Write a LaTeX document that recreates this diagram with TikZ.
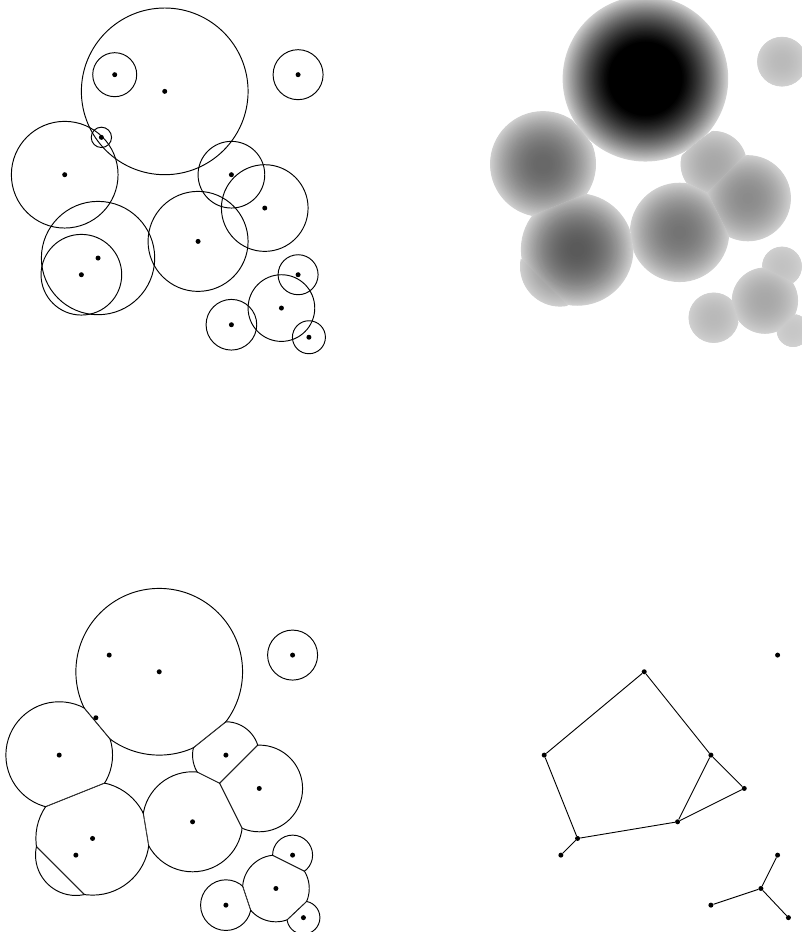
\documentclass[tikz,border=0pt]{standalone}
\usepackage{tikz}

\newcommand\sites{B/9/5/5, C/17/4/1.5, E/3/10/3.2, F/13/10/2, G/15/12/2.6, H/11/14/3, I/5/15/3.4, J/4/16/2.42, K/17/16/1.2, L/16/18/2, M/13/19/1.52, N/17.65/19.75/0.99}
\edef\allsites{A/6/4/1.32, D/5.2/7.76/0.61, \sites}

% radical axis of two weighted sites: foot point (\rax,\ray), direction (\rux,\ruy)
\newcommand\radaxis[6]{%
  \pgfmathsetmacro\rdd{veclen(#4-#1,#5-#2)}%
  \pgfmathsetmacro\rtt{0.5+(#3*#3-#6*#6)/(2*\rdd*\rdd)}%
  \pgfmathsetmacro\rux{(#4-#1)/\rdd}%
  \pgfmathsetmacro\ruy{(#5-#2)/\rdd}%
  \pgfmathsetmacro\rax{#1+\rtt*(#4-#1)}%
  \pgfmathsetmacro\ray{#2+\rtt*(#5-#2)}}
\newcommand\cellclip[4]{%
  \edef\cname{#1}%
  \foreach \tn/\tx/\ty/\tr in \sites {\edef\oname{\tn}\ifx\cname\oname\else
    \radaxis{#2}{#3}{#4}{\tx}{\ty}{\tr}%
    \clip ({\rax-40*(\ruy)},{\ray+40*(\rux)}) -- ({\rax+40*(\ruy)},{\ray-40*(\rux)}) -- ({\rax+40*(\ruy)-40*(\rux)},{\ray-40*(\rux)-40*(\ruy)}) -- ({\rax-40*(\ruy)-40*(\rux)},{\ray+40*(\rux)-40*(\ruy)}) -- cycle;
  \fi}}
\newcommand\celledges[4]{%
  \edef\cname{#1}%
  \foreach \tn/\tx/\ty/\tr in \sites {\edef\oname{\tn}\ifx\cname\oname\else
    \radaxis{#2}{#3}{#4}{\tx}{\ty}{\tr}%
    \draw[ring] ({\rax-40*(\ruy)},{\ray+40*(\rux)}) -- ({\rax+40*(\ruy)},{\ray-40*(\rux)});
  \fi}}

\begin{document}
\begin{tikzpicture}[ring/.style={line width=0.95pt}, dot/.style={circle,fill,inner sep=0pt,minimum size=5pt}, edge/.style={line width=0.9pt}]
\useasboundingbox (0pt,0pt) rectangle (802pt,-932pt);
% balls
\begin{scope}[shift={(14.7pt,-8pt)},x=16.67pt,y=-16.67pt]
\foreach \sn/\sx/\sy/\sr in \allsites {\draw[ring] (\sx,\sy) circle[radius=\sr]; \node[dot] (a-\sn) at (\sx,\sy) {};}
\end{scope}
% power function
\begin{scope}[shift={(491.8pt,6.6pt)},x=17.07pt,y=-17.07pt]
\foreach \sn/\sx/\sy/\sr in \sites {\begin{scope} \cellclip{\sn}{\sx}{\sy}{\sr}
  \foreach \k in {0,...,59} {\pgfmathsetmacro\rad{0.97*\sr*sqrt(1-\k/60)}\pgfmathsetmacro\g{min(100,18+4.11*\sr*\sr*\k/60)}\fill[black!\g] (\sx,\sy) circle[radius=\rad];}
\end{scope}}
\end{scope}
% power cells of the union
\begin{scope}[shift={(9.2pt,-588.4pt)},x=16.67pt,y=-16.67pt]
\foreach \sn/\sx/\sy/\sr in \sites {\begin{scope} \cellclip{\sn}{\sx}{\sy}{\sr}
  \draw[ring] (\sx,\sy) circle[radius=\sr];
  \clip (\sx,\sy) circle[radius=\sr];
  \celledges{\sn}{\sx}{\sy}{\sr}
\end{scope}}
\foreach \sn/\sx/\sy/\sr in \allsites {\node[dot] (c-\sn) at (\sx,\sy) {};}
\end{scope}
% dual complex
\begin{scope}[shift={(494.2pt,-588.4pt)},x=16.67pt,y=-16.67pt]
\foreach \sn/\sx/\sy/\sr in \sites {\node[dot] (d-\sn) at (\sx,\sy) {};}
\foreach \p/\q in {B/E, B/F, F/G, F/H, G/H, E/I, I/H, I/J, L/K, L/M, L/N} {\draw[edge] (d-\p) -- (d-\q);}
\end{scope}
\end{tikzpicture}
\end{document}
